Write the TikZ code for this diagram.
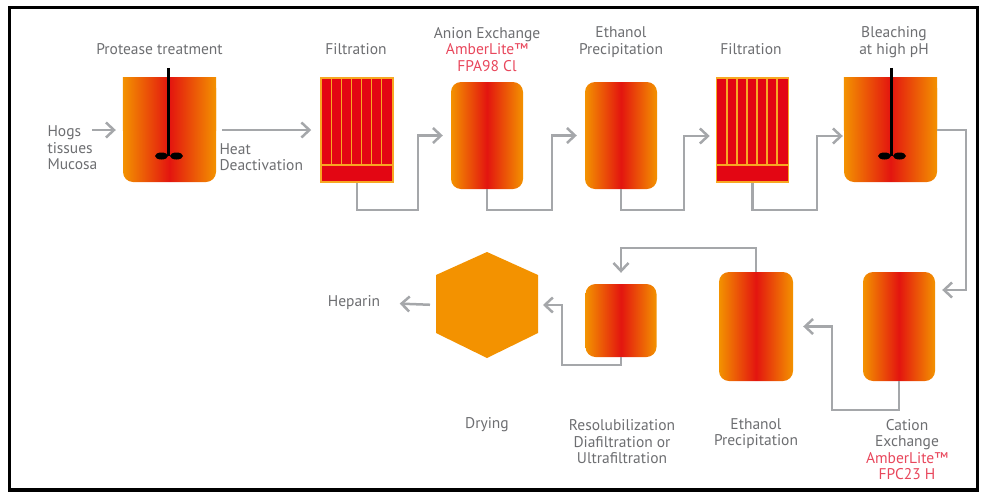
\documentclass[tikz,border=0pt]{standalone}
\usepackage{fontspec}
\setmainfont{PT Sans}
\usetikzlibrary{arrows.meta,calc,positioning}

\definecolor{orng}{HTML}{F39200}
\definecolor{redd}{HTML}{E3150F}
\definecolor{txtgray}{HTML}{6D6E71}
\definecolor{brand}{HTML}{E8475C}
\definecolor{flowgray}{HTML}{A5A7AA}
\definecolor{filtred}{HTML}{E30613}
\definecolor{filtline}{HTML}{F7A823}

\begin{document}
\begin{tikzpicture}[x=1pt,y=-1pt,
	vessel/.style={rectangle, inner sep=0pt, rounded corners=10pt,
		left color=orng, right color=orng, middle color=redd},
	topshade/.style={left color=orng, right color=orng, middle color=redd},
	filter/.style={rectangle, inner sep=0pt, fill=filtred, draw=filtline,
		line width=1.5pt, minimum width=72pt, minimum height=104pt},
	filtbar/.style={draw=filtline, line width=1.5pt},
	rod/.style={line width=2.5pt, black},
	flow/.style={draw=flowgray, line width=2.5pt,
		-{Straight Barb[length=8pt,width=15pt]}},
	label/.style={text=txtgray, font=\fontsize{15.5}{16.5}\selectfont, align=center},
	brandtxt/.style={text=brand}
	]
	\useasboundingbox (0,0) rectangle (989,496);
	% frame
	\draw[line width=3.5pt] (9.5,7.5) rectangle (977.5,490);
	
	% protease reactor
	\node[vessel, minimum width=93pt, minimum height=104pt] (protA) at (169.5,130) {};
	\shade[topshade] (protA.north west) rectangle (protA.east);
	\draw[rod] ([xshift=-1pt,yshift=10pt]protA.north) -- ([xshift=-1pt,yshift=-26pt]protA.center);
	\fill ([xshift=-8pt,yshift=-26pt]protA.center) ellipse (6.5pt and 3.5pt);
	\fill ([xshift=7pt,yshift=-26pt]protA.center) ellipse (6.5pt and 3.5pt);
	
	% first filtration
	\node[filter] (filtA) at (357,130) {};
	\foreach \i in {1,...,6}
		\draw[filtbar] ([xshift={(\i*10+1)*1pt}]filtA.north west) -- ([xshift={(\i*10+1)*1pt},yshift=18pt]filtA.south west);
	\draw[filtbar] ([yshift=18pt]filtA.south west) -- ([yshift=18pt]filtA.south east);
	
	% anion exchange column
	\node[vessel, minimum width=72pt, minimum height=107pt] (anion) at (487,135.5) {};
	
	% first ethanol precipitation
	\node[vessel, minimum width=72pt, minimum height=107pt] (ethA) at (621,135.5) {};
	
	% second filtration
	\node[filter] (filtB) at (752.5,130) {};
	\foreach \i in {1,...,6}
		\draw[filtbar] ([xshift={(\i*10+1)*1pt}]filtB.north west) -- ([xshift={(\i*10+1)*1pt},yshift=18pt]filtB.south west);
	\draw[filtbar] ([yshift=18pt]filtB.south west) -- ([yshift=18pt]filtB.south east);
	
	% bleaching reactor
	\node[vessel, minimum width=93pt, minimum height=104pt] (bleach) at (890.5,130) {};
	\shade[topshade] (bleach.north west) rectangle (bleach.east);
	\draw[rod] ([xshift=1pt,yshift=10pt]bleach.north) -- ([xshift=1pt,yshift=-26pt]bleach.center);
	\fill ([xshift=-6pt,yshift=-26pt]bleach.center) ellipse (6.5pt and 3.5pt);
	\fill ([xshift=9pt,yshift=-26pt]bleach.center) ellipse (6.5pt and 3.5pt);
	
	% cation exchange column
	\node[vessel, minimum width=72pt, minimum height=109pt] (cation) at (899,326.5) {};
	
	% second ethanol precipitation
	\node[vessel, minimum width=74pt, minimum height=109pt] (ethB) at (756,326.5) {};
	
	% resolubilization
	\node[vessel, minimum width=71pt, minimum height=73pt] (resol) at (621,320.5) {};
	
	% drying
	\coordinate (dry) at (487,305);
	\fill[orng] ($(dry)+(0,-53)$) -- ++(51,23) -- ++(0,58) -- ++(-51,25)
		-- ++(-51,-25) -- ++(0,-58) -- cycle;
	\coordinate (dryE) at ($(dry)+(51,0)$);
	\coordinate (dryW) at ($(dry)+(-51,0)$);
	
	% descriptions
	\node[label] (lblProt) at (159.5,49) {Protease treatment};
	\node[label] (lblFiltA) at (356,49) {Filtration};
	\node[label] (lblAnion) at (487,49.5) {Anion Exchange\\\textcolor{brand}{AmberLite™}\\\textcolor{brand}{FPA98 Cl}};
	\node[label] (lblEthA) at (621,42) {Ethanol\\Precipitation};
	\node[label] (lblFiltB) at (751,49) {Filtration};
	\node[label] (lblBleach) at (894,42) {Bleaching\\at high pH};
	\node[label, anchor=west, align=left] (hogs) at (44,148) {Hogs\\tissues\\Mucosa};
	\node[label, anchor=west, align=left] (heat) at (216,157) {Heat\\Deactivation};
	\node[label] (heparin) at (354,303) {Heparin};
	\node[label] (lblDry) at (487,425) {Drying};
	\node[label] (lblResol) at (622,442) {Resolubilization\\Diafiltration or\\Ultrafiltration};
	\node[label] (lblEthB) at (756,433.5) {Ethanol\\Precipitation};
	\node[label] (lblCation) at (907,449.5) {Cation\\Exchange\\\textcolor{brand}{AmberLite™}\\\textcolor{brand}{FPC23 H}};
	
	% flow connectors
	\coordinate (hogsend) at (92,130);
	\coordinate (turnC) at (966,290);
	\coordinate (turnR) at (621,248);
	\draw[flow, shorten >=7pt] (hogsend) -- (protA.west);
	\draw[flow, shorten <=6pt, shorten >=9pt] (protA.east) -- (filtA.west);
	\draw[flow, shorten >=8pt] (filtA.south) |- (418,210) |- (anion.west);
	\draw[flow, shorten >=8pt] (anion.south) |- (552,210) |- (ethA.west);
	\draw[flow, shorten >=6pt] (ethA.south) |- (684,210) |- ([yshift=-6pt]filtB.west);
	\draw[flow, shorten >=1pt] (filtB.south) |- (817,210) |- ([yshift=-6pt]bleach.west);
	\draw[flow, shorten >=7pt] (bleach.east) -| (turnC) -- (turnC -| cation.east);
	\draw[flow, shorten >=10pt] (cation.south) |- (832,410) |- (ethB.east);
	\draw[flow, shorten >=11pt] (ethB.north) |- (turnR) -- (resol.north);
	\draw[flow, shorten >=5pt] (resol.south) |- (562,365) |- (dryE);
	\draw[flow, shorten <=6pt, shorten >=16pt] (dryW) -- (heparin.east);
\end{tikzpicture}
\end{document}
